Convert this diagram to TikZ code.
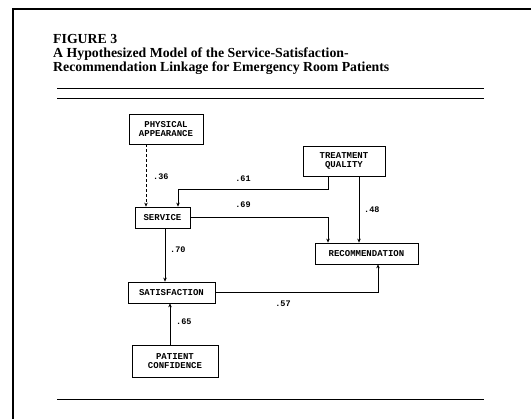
\documentclass[tikz,border=0pt]{standalone}
\usepackage{fontspec}
\setmainfont{Liberation Serif}
\setmonofont{Liberation Mono}
\usetikzlibrary{arrows.meta,calc}
\begin{document}
\begin{tikzpicture}[x=1pt,y=1pt,
  box/.style={draw,line width=0.7pt,align=center,inner sep=1pt,
    font=\ttfamily\bfseries\fontsize{9}{9.5}\selectfont},
  link/.style={line width=0.7pt,-{Stealth[length=4pt,width=3.5pt]}},
  coef/.style={font=\ttfamily\bfseries\fontsize{8.5}{9}\selectfont,inner sep=0pt},
  caption/.style={anchor=base west,inner sep=0pt,font=\bfseries\fontsize{13.8}{15}\selectfont},
  rule/.style={line width=0.6pt}]
\useasboundingbox (0,0) rectangle (531,419);
% frame
\draw[line width=1.2pt] (13,0) -- (13,410) -- (531,410);
% caption
\node[caption] (fig) at (53,375) {FIGURE 3};
\node[caption] (t1) at (53,361) {A Hypothesized Model of the Service-Satisfaction-};
\node[caption] (t2) at (53,347) {Recommendation Linkage for Emergency Room Patients};
\draw[rule] (57,331) -- (484,331);
\draw[rule] (57,321) -- (484,321);
\draw[rule] (57,20) -- (484,20);
% constructs
\node[box,minimum width=74pt,minimum height=30pt] (pa) at (166,290) {PHYSICAL\\APPEARANCE};
\node[box,minimum width=82pt,minimum height=30pt] (tq) at (344,258) {TREATMENT\\QUALITY};
\node[box,minimum width=55pt,minimum height=21pt] (sv) at (162.5,201.5) {SERVICE};
\node[box,minimum width=103pt,minimum height=21pt] (rc) at (366.5,165.5) {RECOMMENDATION};
\node[box,minimum width=87pt,minimum height=21pt] (st) at (171.5,126.5) {SATISFACTION};
\node[box,minimum width=86pt,minimum height=32pt] (pc) at (175,58) {PATIENT\\CONFIDENCE};
% routing columns and rows
\coordinate (xa) at (146,0);
\coordinate (xb) at (178,0);
\coordinate (xc) at (328,0);
\coordinate (xd) at (359,0);
\coordinate (xe) at (165,0);
\coordinate (xf) at (170,0);
\coordinate (xg) at (378,0);
\coordinate (ya) at (0,230);
% paths
\draw[link,densely dashed] (pa.south -| xa) -- (sv.north -| xa);
\draw[link] (tq.south -| xc) -- (xc |- ya) -- (xb |- ya) -- (sv.north -| xb);
\draw[link] (sv.east) -| (rc.north -| xc);
\draw[link] (tq.south -| xd) -- (rc.north -| xd);
\draw[link] (sv.south -| xe) -- (st.north -| xe);
\draw[link] (st.east) -| (rc.south -| xg);
\draw[link] (pc.north -| xf) -- (st.south -| xf);
% path coefficients
\node[coef,anchor=west] (c36) at (153,242) {.36};
\node[coef] (c61) at (243,240) {.61};
\node[coef] (c69) at (243,214) {.69};
\node[coef,anchor=west] (c48) at (364,209) {.48};
\node[coef,anchor=west] (c70) at (170,169) {.70};
\node[coef] (c57) at (283,115) {.57};
\node[coef,anchor=west] (c65) at (176,97) {.65};
\end{tikzpicture}
\end{document}
